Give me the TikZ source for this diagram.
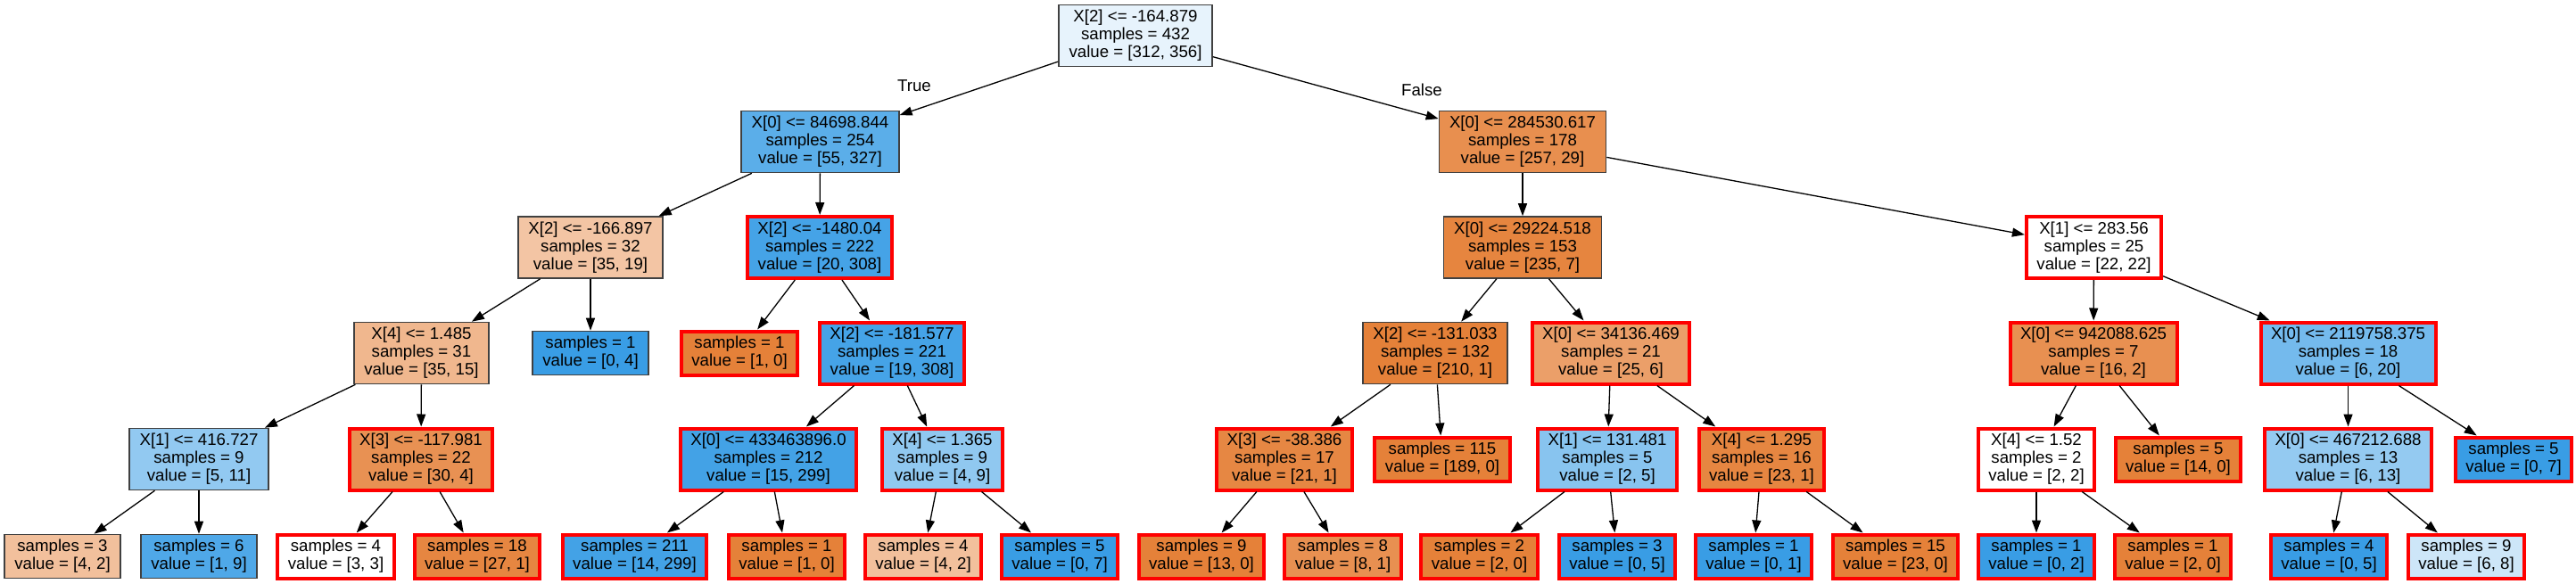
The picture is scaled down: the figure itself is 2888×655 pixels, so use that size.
\documentclass[tikz,border=0pt]{standalone}
\usepackage{fontspec}
\setmainfont{Liberation Sans}
\usetikzlibrary{arrows.meta}
\definecolor{clsorange}{HTML}{E58139}
\definecolor{clsblue}{HTML}{399DE5}
\tikzset{
    orfill/.style={fill=clsorange!#1!white},
    blfill/.style={fill=clsblue!#1!white}
}

\begin{document}
\begin{tikzpicture}[x=1pt, y=-1pt,
    box/.style={draw=black!75, line width=1.6pt, align=center, inner xsep=11.5pt, inner ysep=5.8pt,
        font=\fontsize{18.67}{20}\selectfont},
    marked/.style={box, draw=red, line width=4pt},
    edge/.style={line width=1.3pt, -{Triangle[length=14pt,width=10pt]}},
    lbl/.style={font=\fontsize{18.67}{20}\selectfont}]
    \useasboundingbox (0,0) rectangle (2888,655);

    % level 0 and 1
    \node[box, blfill=12] (n0) at (1273,40) {X[2] <= -164.879\\samples = 432\\value = [312, 356]};
    \node[box, blfill=83] (n1) at (919.5,159) {X[0] <= 84698.844\\samples = 254\\value = [55, 327]};
    \node[box, orfill=89] (n20) at (1707,159) {X[0] <= 284530.617\\samples = 178\\value = [257, 29]};
    \node[lbl] (truelbl) at (1025,96) {True};
    \node[lbl] (falselbl) at (1594,101) {False};

    % level 2
    \node[box, orfill=46] (n2) at (662,277.5) {X[2] <= -166.897\\samples = 32\\value = [35, 19]};
    \node[marked, blfill=94] (n11) at (919,277.5) {X[2] <= -1480.04\\samples = 222\\value = [20, 308]};
    \node[box, orfill=97] (n21) at (1707,277.5) {X[0] <= 29224.518\\samples = 153\\value = [235, 7]};
    \node[marked, fill=white] (n34) at (2347.5,277.5) {X[1] <= 283.56\\samples = 25\\value = [22, 22]};

    % level 3
    \node[box, orfill=57] (n3) at (472.5,396) {X[4] <= 1.485\\samples = 31\\value = [35, 15]};
    \node[box, blfill=100] (n10) at (662,396) {samples = 1\\value = [0, 4]};
    \node[marked, orfill=100] (n12) at (829,396) {samples = 1\\value = [1, 0]};
    \node[marked, blfill=94] (n13) at (1000,396) {X[2] <= -181.577\\samples = 221\\value = [19, 308]};
    \node[box, orfill=100] (n22) at (1609,396) {X[2] <= -131.033\\samples = 132\\value = [210, 1]};
    \node[marked, orfill=76] (n27) at (1806,396) {X[0] <= 34136.469\\samples = 21\\value = [25, 6]};
    \node[marked, orfill=88] (n35) at (2347,396) {X[0] <= 942088.625\\samples = 7\\value = [16, 2]};
    \node[marked, blfill=70] (n40) at (2632.5,396) {X[0] <= 2119758.375\\samples = 18\\value = [6, 20]};

    % level 4
    \node[box, blfill=55] (n4) at (223,515) {X[1] <= 416.727\\samples = 9\\value = [5, 11]};
    \node[marked, orfill=87] (n7) at (472,515) {X[3] <= -117.981\\samples = 22\\value = [30, 4]};
    \node[marked, blfill=95] (n14) at (861.5,515) {X[0] <= 433463896.0\\samples = 212\\value = [15, 299]};
    \node[marked, blfill=56] (n17) at (1056.5,515) {X[4] <= 1.365\\samples = 9\\value = [4, 9]};
    \node[marked, orfill=95] (n23) at (1440,515) {X[3] <= -38.386\\samples = 17\\value = [21, 1]};
    \node[marked, orfill=100] (n26) at (1617,515) {samples = 115\\value = [189, 0]};
    \node[marked, blfill=60] (n28) at (1802,515) {X[1] <= 131.481\\samples = 5\\value = [2, 5]};
    \node[marked, orfill=96] (n31) at (1975,515) {X[4] <= 1.295\\samples = 16\\value = [23, 1]};
    \node[marked, fill=white] (n36) at (2283,515) {X[4] <= 1.52\\samples = 2\\value = [2, 2]};
    \node[marked, orfill=100] (n39) at (2442,515) {samples = 5\\value = [14, 0]};
    \node[marked, blfill=54] (n41) at (2632.5,515) {X[0] <= 467212.688\\samples = 13\\value = [6, 13]};
    \node[marked, blfill=100] (n44) at (2818,515) {samples = 5\\value = [0, 7]};

    % level 5
    \node[box, orfill=50] (n5) at (70,624) {samples = 3\\value = [4, 2]};
    \node[box, blfill=89] (n6) at (223,624) {samples = 6\\value = [1, 9]};
    \node[marked, fill=white] (n8) at (376.5,624) {samples = 4\\value = [3, 3]};
    \node[marked, orfill=96] (n9) at (535,624) {samples = 18\\value = [27, 1]};
    \node[marked, blfill=95] (n15) at (711.5,624) {samples = 211\\value = [14, 299]};
    \node[marked, orfill=100] (n16) at (882,624) {samples = 1\\value = [1, 0]};
    \node[marked, orfill=50] (n18) at (1035,624) {samples = 4\\value = [4, 2]};
    \node[marked, blfill=100] (n19) at (1188,624) {samples = 5\\value = [0, 7]};
    \node[marked, orfill=100] (n24) at (1347,624) {samples = 9\\value = [13, 0]};
    \node[marked, orfill=88] (n25) at (1505.5,624) {samples = 8\\value = [8, 1]};
    \node[marked, orfill=100] (n29) at (1658.5,624) {samples = 2\\value = [2, 0]};
    \node[marked, blfill=100] (n30) at (1813,624) {samples = 3\\value = [0, 5]};
    \node[marked, blfill=100] (n32) at (1966,624) {samples = 1\\value = [0, 1]};
    \node[marked, orfill=100] (n33) at (2125,624) {samples = 15\\value = [23, 0]};
    \node[marked, blfill=100] (n37) at (2283,624) {samples = 1\\value = [0, 2]};
    \node[marked, orfill=100] (n38) at (2436,624) {samples = 1\\value = [2, 0]};
    \node[marked, blfill=100] (n42) at (2611,624) {samples = 4\\value = [0, 5]};
    \node[marked, blfill=25] (n43) at (2765,624) {samples = 9\\value = [6, 8]};

    \foreach \a/\b in {0/1, 0/20, 1/2, 1/11, 2/3, 2/10, 3/4, 3/7, 4/5, 4/6, 7/8, 7/9,
        11/12, 11/13, 13/14, 13/17, 14/15, 14/16, 17/18, 17/19,
        20/21, 20/34, 21/22, 21/27, 22/23, 22/26, 23/24, 23/25, 27/28, 27/31,
        28/29, 28/30, 31/32, 31/33, 34/35, 34/40, 35/36, 35/39, 36/37, 36/38,
        40/41, 40/44, 41/42, 41/43} {
        \draw[edge] (n\a) -- (n\b);
    }
\end{tikzpicture}
\end{document}
